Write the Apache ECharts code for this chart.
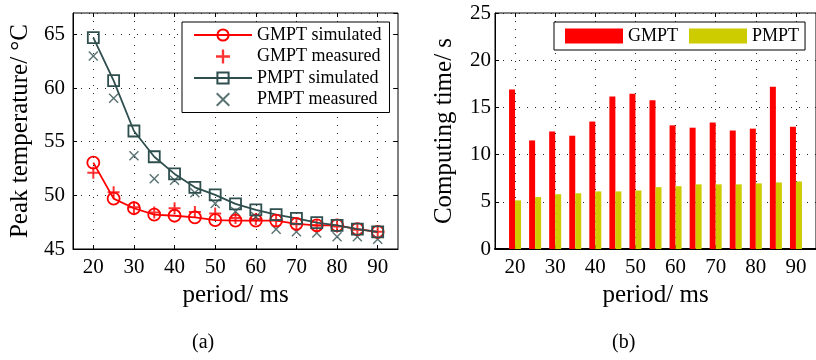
<!DOCTYPE html>
<html>
<head>
<meta charset="utf-8">
<script src="https://cdn.jsdelivr.net/npm/echarts@6/dist/echarts.min.js"></script>
<style>
  html, body { margin: 0; padding: 0; background: #fff; }
  #chart { width: 816px; height: 360px; }
</style>
</head>
<body>
<div id="chart"></div>
<script>
const periods = [20, 25, 30, 35, 40, 45, 50, 55, 60, 65, 70, 75, 80, 85, 90];
const periodTicks = [20, 30, 40, 50, 60, 70, 80, 90];

// (a) peak temperature, °C
const gmptSimulated = [53.05, 49.7, 48.8, 48.2, 48.1, 47.95, 47.7, 47.65, 47.65, 47.65, 47.35, 47.2, 47.2, 46.85, 46.6];
const gmptMeasured  = [52.1, 50.3, 48.9, 48.4, 48.8, 48.45, 48.3, 47.9, 47.8, 47.7, 47.3, 47.2, 47.1, 46.8, 46.6];
const pmptSimulated = [64.7, 60.7, 56.0, 53.6, 52.0, 50.75, 50.05, 49.2, 48.65, 48.2, 47.85, 47.45, 47.2, 46.85, 46.6];
const pmptMeasured  = [63.0, 59.05, 53.7, 51.55, 51.4, 50.25, 49.25, 48.5, 48.0, 46.85, 46.6, 46.5, 46.15, 46.15, 45.9];

// (b) computing time, s
const gmptTime = [16.9, 11.5, 12.45, 12.0, 13.5, 16.15, 16.45, 15.75, 13.1, 12.85, 13.4, 12.55, 12.75, 17.2, 12.95];
const pmptTime = [5.15, 5.5, 5.8, 5.9, 6.1, 6.1, 6.2, 6.55, 6.65, 6.85, 6.85, 6.85, 6.95, 7.05, 7.15];

const RED = '#ff0000';
const SLATE = '#2f4f4f';
const YELLOW = '#cccc00';
const FONT = '"Liberation Serif", "DejaVu Serif", serif';

const pair = (ys) => periods.map((p, i) => [p, ys[i]]);

const plusPath = 'path://M-1,-6H1V-1H6V1H1V6H-1V1H-6V-1H-1Z';
const crossPath = 'path://M-5,-4L-4,-5L0,-1L4,-5L5,-4L1,0L5,4L4,5L0,1L-4,5L-5,4L-1,0Z';

const dotted = { show: true, lineStyle: { color: '#222', type: [1, 7], width: 1 } };

function bottomX(gridIndex) {
    return {
        type: 'value', gridIndex, position: 'bottom', min: 15, max: 95,
        name: 'period/ ms', nameLocation: 'middle', nameGap: 33,
        nameTextStyle: { fontFamily: FONT, fontSize: 25, color: '#000' },
        axisLine: { show: true, lineStyle: { color: '#000', width: gridIndex === 1 ? 2 : 1 } },
        axisTick: { show: true, inside: true, length: 4, customValues: periodTicks, lineStyle: { color: '#000' } },
        axisLabel: { customValues: periodTicks, margin: 8, fontFamily: FONT, fontSize: 21, color: '#000' },
        splitLine: dotted
    };
}
function topX(gridIndex) {
    return {
        type: 'value', gridIndex, position: 'top', min: 15, max: 95,
        axisLine: { show: false },
        axisTick: { show: true, inside: true, length: 4, customValues: periodTicks, lineStyle: { color: '#000' } },
        axisLabel: { show: false },
        splitLine: { show: false }
    };
}

const chart = echarts.init(document.getElementById('chart'));
chart.setOption({
    backgroundColor: '#fff',
    animation: false,
    textStyle: { fontFamily: FONT },
    grid: [
        { left: 73, top: 13, width: 325, height: 236, show: true, borderColor: '#000', borderWidth: 1 },
        { left: 495, top: 13, width: 324, height: 236, show: true, borderColor: '#000', borderWidth: 1 }
    ],
    legend: [
        {
            orient: 'vertical', left: 182, top: 22,
            padding: [3, 8, 3, 11], itemGap: 1.5,
            itemWidth: 58, itemHeight: 14,
            backgroundColor: '#fff', borderColor: '#000', borderWidth: 1,
            textStyle: { fontFamily: FONT, fontSize: 18, color: '#000', lineHeight: 20 },
            data: ['GMPT simulated', 'GMPT measured', 'PMPT simulated', 'PMPT measured']
        },
        {
            orient: 'horizontal', left: 554, top: 22,
            padding: [5, 6, 5, 11], itemGap: 11,
            itemWidth: 58, itemHeight: 15, icon: 'rect',
            backgroundColor: '#fff', borderColor: '#000', borderWidth: 1,
            textStyle: { fontFamily: FONT, fontSize: 18, color: '#000' },
            data: ['GMPT', 'PMPT']
        }
    ],
    xAxis: [bottomX(0), topX(0), bottomX(1), topX(1)],
    yAxis: [
        {
            type: 'value', gridIndex: 0, position: 'left', min: 45, max: 67, interval: 5,
            name: 'Peak temperature/ °C', nameLocation: 'middle', nameGap: 40,
            nameTextStyle: { fontFamily: FONT, fontSize: 25, color: '#000' },
            axisLine: { show: true, lineStyle: { color: '#000' } },
            axisTick: { show: true, inside: true, length: 4, lineStyle: { color: '#000' } },
            axisLabel: { margin: 8, fontFamily: FONT, fontSize: 21, color: '#000', showMaxLabel: false },
            splitLine: dotted
        },
        {
            type: 'value', gridIndex: 0, position: 'right', min: 45, max: 67, interval: 5,
            axisLine: { show: false },
            axisTick: { show: true, inside: true, length: 4, lineStyle: { color: '#000' } },
            axisLabel: { show: false }, splitLine: { show: false }
        },
        {
            type: 'value', gridIndex: 1, position: 'left', min: 0, max: 25, interval: 5,
            name: 'Computing time/ s', nameLocation: 'middle', nameGap: 38,
            nameTextStyle: { fontFamily: FONT, fontSize: 25, color: '#000' },
            axisLine: { show: true, lineStyle: { color: '#000' } },
            axisTick: { show: true, inside: true, length: 4, lineStyle: { color: '#000' } },
            axisLabel: { margin: 4, fontFamily: FONT, fontSize: 21, color: '#000' },
            splitLine: dotted
        }
    ],
    series: [
        {
            name: 'GMPT simulated', type: 'line', xAxisIndex: 0, yAxisIndex: 0,
            data: pair(gmptSimulated),
            symbol: 'circle', symbolSize: 12,
            lineStyle: { color: RED, width: 1.8 },
            itemStyle: { color: 'rgba(255,255,255,0)', borderColor: RED, borderWidth: 1.8 }
        },
        {
            name: 'GMPT measured', type: 'scatter', xAxisIndex: 0, yAxisIndex: 0,
            data: pair(gmptMeasured),
            symbol: plusPath, symbolSize: 12,
            itemStyle: { color: RED }
        },
        {
            name: 'PMPT simulated', type: 'line', xAxisIndex: 0, yAxisIndex: 0,
            data: pair(pmptSimulated),
            symbol: 'rect', symbolSize: 11,
            lineStyle: { color: SLATE, width: 1.8 },
            itemStyle: { color: 'rgba(255,255,255,0)', borderColor: SLATE, borderWidth: 1.8 }
        },
        {
            name: 'PMPT measured', type: 'scatter', xAxisIndex: 0, yAxisIndex: 0,
            data: pair(pmptMeasured),
            symbol: crossPath, symbolSize: 10,
            itemStyle: { color: SLATE }
        },
        {
            name: 'GMPT', type: 'bar', xAxisIndex: 2, yAxisIndex: 2,
            data: pair(gmptTime), barWidth: 6, barGap: 0,
            itemStyle: { color: RED }
        },
        {
            name: 'PMPT', type: 'bar', xAxisIndex: 2, yAxisIndex: 2,
            data: pair(pmptTime), barWidth: 6, barGap: 0,
            itemStyle: { color: YELLOW }
        }
    ],
    graphic: [
        { type: 'text', left: 192, top: 333, style: { text: '(a)', font: '20px ' + FONT, fill: '#000' } },
        { type: 'text', left: 612, top: 333, style: { text: '(b)', font: '20px ' + FONT, fill: '#000' } }
    ]
});
</script>
</body>
</html>
